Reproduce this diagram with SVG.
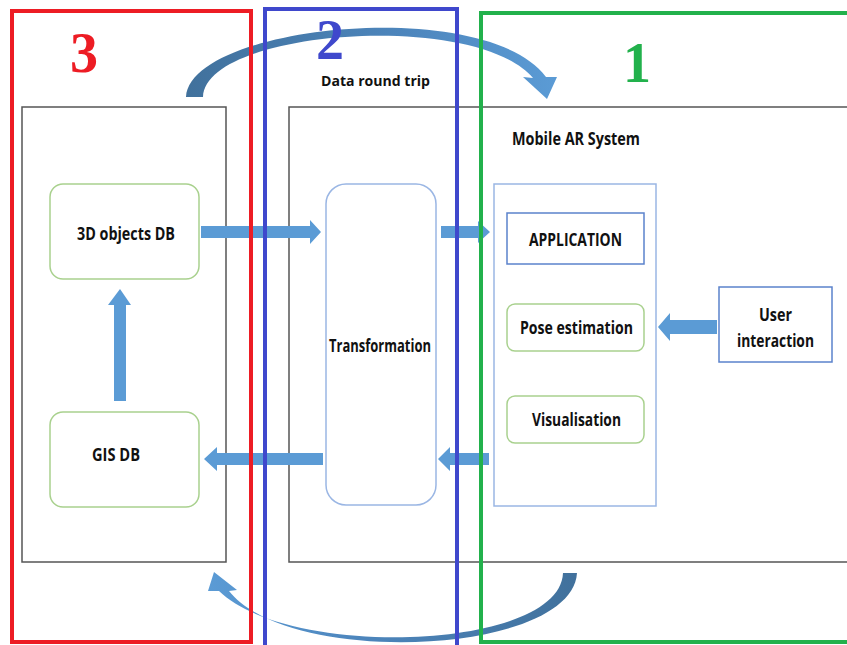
<svg xmlns="http://www.w3.org/2000/svg" width="847" height="645" viewBox="0 0 847 645">
  <defs>
    <style>
      .lbl { font-family: "Open Sans", "Liberation Sans", sans-serif; font-weight: bold; fill: #111; text-anchor: middle; }
      .num { font-family: "Liberation Serif", "DejaVu Serif", serif; font-weight: bold; text-anchor: middle; }
      .gray { fill: #fff; stroke: #555; stroke-width: 1.5; }
      .grn { fill: #fff; stroke: #a9d18e; stroke-width: 1.5; }
      .lblue { fill: #fff; stroke: #9ab6e4; stroke-width: 1.5; }
      .mblue { fill: #fff; stroke: #5b82cc; stroke-width: 1.5; }
      .arr { fill: #5b9bd5; }
      .zone { fill: none; stroke-width: 4; }
    </style>
    <linearGradient id="gTop" x1="186" y1="0" x2="556" y2="0" gradientUnits="userSpaceOnUse">
      <stop offset="0" stop-color="#41719c"/>
      <stop offset="0.6" stop-color="#4d86bd"/>
      <stop offset="1" stop-color="#5b9bd5"/>
    </linearGradient>
    <linearGradient id="gBot" x1="577" y1="0" x2="208" y2="0" gradientUnits="userSpaceOnUse">
      <stop offset="0" stop-color="#41719c"/>
      <stop offset="0.6" stop-color="#4d86bd"/>
      <stop offset="1" stop-color="#5b9bd5"/>
    </linearGradient>
  </defs>
  <rect width="847" height="645" fill="#fff"/>

  <!-- containers -->
  <g id="gis-side">
    <rect class="gray" x="22" y="107" width="204" height="455"/>
  </g>
  <g id="mobile-ar-system">
    <rect class="gray" x="289" y="107" width="600" height="455"/>
    <text class="lbl" x="576" y="145" font-size="18" textLength="128" lengthAdjust="spacingAndGlyphs">Mobile AR System</text>
  </g>

  <g id="data-round-trip-label">
    <text class="lbl" x="375.5" y="86" font-size="15" textLength="109" lengthAdjust="spacingAndGlyphs">Data round trip</text>
  </g>

  <!-- nodes -->
  <g id="objects-3d-db">
    <rect class="grn" x="50" y="184" width="149" height="95" rx="13"/>
    <text class="lbl" x="126" y="240" font-size="17.5" textLength="98" lengthAdjust="spacingAndGlyphs">3D objects DB</text>
  </g>
  <g id="gis-db">
    <rect class="grn" x="50" y="412" width="149" height="95" rx="13"/>
    <text class="lbl" x="116" y="461" font-size="18" textLength="48" lengthAdjust="spacingAndGlyphs">GIS DB</text>
  </g>
  <g id="transformation">
    <rect class="lblue" x="326" y="184" width="110" height="321" rx="20"/>
    <text class="lbl" x="380" y="352" font-size="17" textLength="102" lengthAdjust="spacingAndGlyphs">Transformation</text>
  </g>
  <g id="ar-core">
    <rect class="lblue" x="494" y="184" width="162" height="322"/>
  </g>
  <g id="application">
    <rect class="mblue" x="507" y="213" width="137" height="51"/>
    <text class="lbl" x="575.5" y="246" font-size="18" textLength="93" lengthAdjust="spacingAndGlyphs">APPLICATION</text>
  </g>
  <g id="pose-estimation">
    <rect class="grn" x="507" y="304" width="137" height="47" rx="8"/>
    <text class="lbl" x="576.5" y="334" font-size="18" textLength="113" lengthAdjust="spacingAndGlyphs">Pose estimation</text>
  </g>
  <g id="visualisation">
    <rect class="grn" x="507" y="396" width="137" height="47" rx="8"/>
    <text class="lbl" x="576.5" y="426" font-size="18" textLength="89" lengthAdjust="spacingAndGlyphs">Visualisation</text>
  </g>
  <g id="user-interaction">
    <rect class="mblue" x="719" y="287" width="113" height="75"/>
    <text class="lbl" x="775.5" y="321" font-size="18" textLength="33" lengthAdjust="spacingAndGlyphs">User</text>
    <text class="lbl" x="775.5" y="347" font-size="18" textLength="77" lengthAdjust="spacingAndGlyphs">interaction</text>
  </g>

  <!-- connectors -->
  <g id="connectors">
    <!-- GIS DB -> 3D objects DB -->
    <polygon class="arr" points="114,401 126,401 126,305 131,305 120,289 108,305 114,305"/>
    <!-- 3D objects DB -> Transformation -->
    <polygon class="arr" points="201,226 310,226 310,220 321,232 310,244 310,238 201,238"/>
    <!-- Transformation -> Application -->
    <polygon class="arr" points="441,226 478,226 478,221 490,232 478,243 478,238 441,238"/>
    <!-- Transformation -> GIS DB -->
    <polygon class="arr" points="323,453 217,453 217,447 204,459 217,471 217,465 323,465"/>
    <!-- AR core -> Transformation -->
    <polygon class="arr" points="489,453 450,453 450,447 438,459 450,471 450,465 489,465"/>
    <!-- User interaction -> Pose estimation -->
    <polygon class="arr" points="717,320 670,320 670,313 658,327 670,341 670,334 717,334"/>
    <!-- top round trip arc -->
    <path fill="url(#gTop)" d="M186,97 C190,25 485,-5 546,77 L557,77 L547,99 L523,77 L533,78 C475,10 205,30 203,97 Z"/>
    <!-- bottom round trip arc -->
    <path fill="url(#gBot)" d="M577,573 C572,655 290,668 229,591 L237,590 L214,572 L208,591 L219,591 C290,660 560,650 563,573 Z"/>
  </g>

  <!-- zones -->
  <g id="zones">
    <rect class="zone" stroke="#ed1c24" x="12" y="11" width="239" height="631"/>
    <rect class="zone" stroke="#3f48cc" x="265" y="9" width="192" height="650"/>
    <rect class="zone" stroke="#22b14c" x="481" y="13" width="380" height="629"/>
    <text class="num" x="84" y="72" font-size="56" fill="#ed1c24">3</text>
    <text class="num" x="330" y="59" font-size="56" fill="#3f48cc">2</text>
    <text class="num" x="637" y="82" font-size="56" fill="#22b14c">1</text>
  </g>
</svg>
